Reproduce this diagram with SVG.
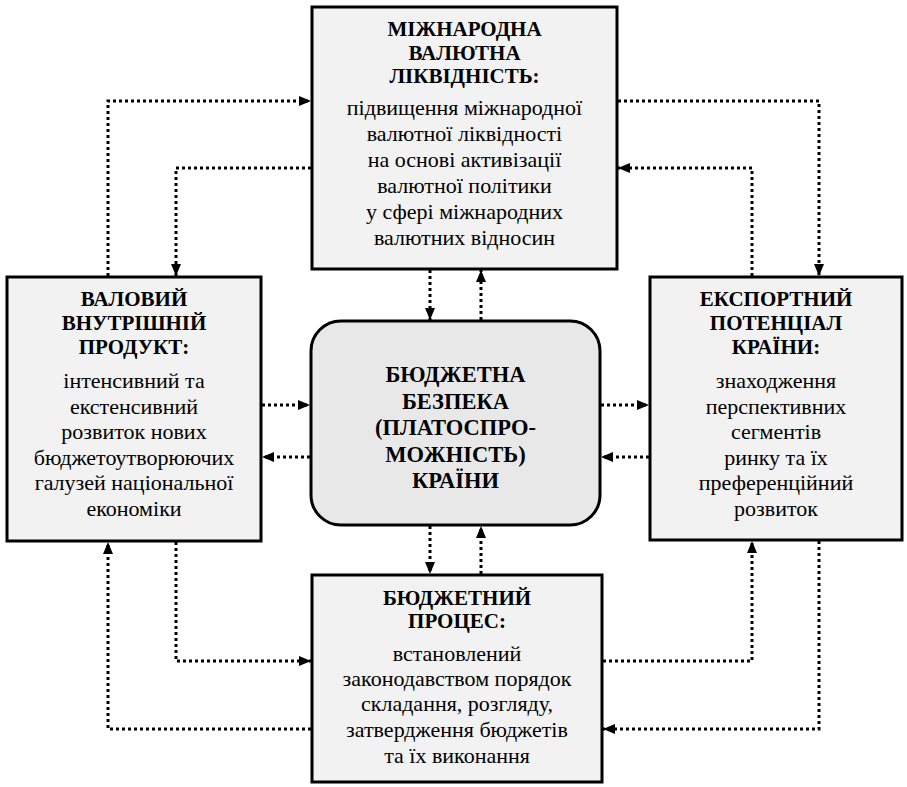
<svg xmlns="http://www.w3.org/2000/svg" width="907" height="787" viewBox="0 0 907 787">
<style>
.box{fill:#f2f2f2;stroke:#000;stroke-width:3}
.ctr{fill:#e8e8e8;stroke:#000;stroke-width:3}
text{font-family:'Liberation Serif','Times New Roman',serif;text-anchor:middle;fill:#000}
.t{font-weight:bold;font-size:21px}
.b{font-size:22px}
.c{font-weight:bold;font-size:22.5px}
.con{fill:none;stroke:#000;stroke-width:3;stroke-dasharray:3 3;marker-end:url(#ah)}
</style>
<defs>
<marker id="ah" markerUnits="userSpaceOnUse" markerWidth="12" markerHeight="10" refX="12" refY="5" orient="auto">
<path d="M0,0 L12,5 L0,10 Z" fill="#000"/>
</marker>
</defs>
<g id="connectors">
<path class="con" d="M108,276 V101 H311"/>
<path class="con" d="M311,168 H176 V276"/>
<path class="con" d="M618,101 H819 V276"/>
<path class="con" d="M752,276 V168 H618"/>
<path class="con" d="M311,729 H108 V542"/>
<path class="con" d="M176,542 V661 H311"/>
<path class="con" d="M603,661 H752 V541"/>
<path class="con" d="M819,541 V729 H603"/>
<path class="con" d="M430,270 V320"/>
<path class="con" d="M481,320 V270"/>
<path class="con" d="M430,526 V574"/>
<path class="con" d="M481,574 V526"/>
<path class="con" d="M262,405 H310"/>
<path class="con" d="M310,457 H262"/>
<path class="con" d="M601,405 H649"/>
<path class="con" d="M649,457 H601"/>
</g>
<g id="top">
<rect class="box" x="312" y="7" width="305" height="262"/>
<text class="t" x="464.5" y="36">МІЖНАРОДНА</text>
<text class="t" x="464.5" y="60">ВАЛЮТНА</text>
<text class="t" x="464.5" y="83">ЛІКВІДНІСТЬ:</text>
<text class="b" x="464.5" y="115">підвищення міжнародної</text>
<text class="b" x="464.5" y="141">валютної ліквідності</text>
<text class="b" x="464.5" y="167">на основі активізації</text>
<text class="b" x="464.5" y="193">валютної політики</text>
<text class="b" x="464.5" y="219">у сфері міжнародних</text>
<text class="b" x="464.5" y="245">валютних відносин</text>
</g>
<g id="left">
<rect class="box" x="7" y="277" width="254" height="264"/>
<text class="t" x="134" y="306">ВАЛОВИЙ</text>
<text class="t" x="134" y="330">ВНУТРІШНІЙ</text>
<text class="t" x="134" y="354">ПРОДУКТ:</text>
<text class="b" x="134" y="388">інтенсивний та</text>
<text class="b" x="134" y="414">екстенсивний</text>
<text class="b" x="134" y="439">розвиток нових</text>
<text class="b" x="134" y="465">бюджетоутворюючих</text>
<text class="b" x="134" y="490">галузей національної</text>
<text class="b" x="134" y="516">економіки</text>
</g>
<g id="right">
<rect class="box" x="650" y="277" width="252" height="263"/>
<text class="t" x="776" y="306">ЕКСПОРТНИЙ</text>
<text class="t" x="776" y="330">ПОТЕНЦІАЛ</text>
<text class="t" x="776" y="354">КРАЇНИ:</text>
<text class="b" x="776" y="388">знаходження</text>
<text class="b" x="776" y="414">перспективних</text>
<text class="b" x="776" y="439">сегментів</text>
<text class="b" x="776" y="465">ринку та їх</text>
<text class="b" x="776" y="490">преференційний</text>
<text class="b" x="776" y="516">розвиток</text>
</g>
<g id="bottom">
<rect class="box" x="312" y="575" width="290" height="207"/>
<text class="t" x="457" y="605">БЮДЖЕТНИЙ</text>
<text class="t" x="457" y="628">ПРОЦЕС:</text>
<text class="b" x="457" y="661">встановлений</text>
<text class="b" x="457" y="686">законодавством порядок</text>
<text class="b" x="457" y="711">складання, розгляду,</text>
<text class="b" x="457" y="737">затвердження бюджетів</text>
<text class="b" x="457" y="763">та їх виконання</text>
</g>
<g id="center">
<rect class="ctr" x="311" y="321" width="289" height="204" rx="30" ry="30"/>
<text class="c" x="455.5" y="382">БЮДЖЕТНА</text>
<text class="c" x="455.5" y="408.5">БЕЗПЕКА</text>
<text class="c" x="455.5" y="435">(ПЛАТОСПРО-</text>
<text class="c" x="455.5" y="461.5">МОЖНІСТЬ)</text>
<text class="c" x="455.5" y="488">КРАЇНИ</text>
</g>
</svg>
